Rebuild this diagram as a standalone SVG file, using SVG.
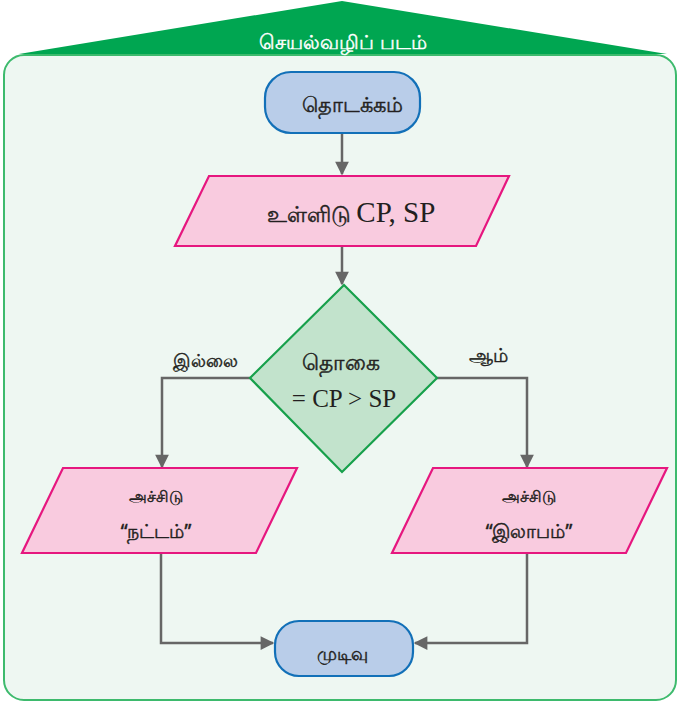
<svg xmlns="http://www.w3.org/2000/svg" width="679" height="703" viewBox="0 0 679 703">
<style>
.ta{font-family:"Noto Sans","DejaVu Sans",sans-serif;fill:#231f20;stroke:#231f20;stroke-width:0.45;text-anchor:middle}
.se{font-family:"Liberation Serif",serif;fill:#231f20}
.term{fill:#b9cde9;stroke:#1270b8;stroke-width:2.2}
.io{fill:#f9cbdf;stroke:#e6177f;stroke-width:2.2}
.dec{fill:#c2e3cc;stroke:#17a04b;stroke-width:2.2}
.con{fill:none;stroke:#666;stroke-width:2.5}
</style>
<defs>
<marker id="ah" viewBox="0 0 10 10" refX="9" refY="5" markerWidth="6" markerHeight="5.5" markerUnits="strokeWidth" orient="auto">
<path d="M0,0 L10,5 L0,10 z" fill="#666"/>
</marker>
</defs>
<g id="frame">
<polygon points="19,54 342,1 667,54" fill="#00a651"/>
<rect x="4" y="55" width="672" height="645" rx="20" fill="#eef7f2" stroke="#3dba6d" stroke-width="2"/>
<text x="343" y="49" class="ta" style="fill:#fff;stroke:#fff" font-size="19.5">செயல்வழிப் படம்</text>
</g>
<g id="connectors">
<line class="con" x1="342" y1="133" x2="342" y2="174" marker-end="url(#ah)"/>
<line class="con" x1="342" y1="246" x2="342" y2="284" marker-end="url(#ah)"/>
<polyline class="con" points="250,378 162,378 162,467" marker-end="url(#ah)"/>
<polyline class="con" points="437,378 527,378 527,467" marker-end="url(#ah)"/>
<polyline class="con" points="161,553 161,643 273,643" marker-end="url(#ah)"/>
<polyline class="con" points="527,553 527,643 415,643" marker-end="url(#ah)"/>
<text x="205" y="367" class="ta" font-size="18">இல்லை</text>
<text x="488" y="362" class="ta" font-size="18.5">ஆம்</text>
</g>
<g id="start">
<rect class="term" x="265" y="72" width="155" height="61" rx="26"/>
<text x="352" y="112" class="ta" font-size="21">தொடக்கம்</text>
</g>
<g id="input">
<polygon class="io" points="209,176 509,176 476,246 175,246"/>
<text x="351" y="222" text-anchor="middle"><tspan class="ta" font-size="22">உள்ளிடு </tspan><tspan class="se" font-size="29">CP, SP</tspan></text>
</g>
<g id="decision">
<polygon class="dec" points="344,285 437,378 342,472 250,378"/>
<text x="341" y="370" class="ta" font-size="22">தொகை</text>
<text x="344" y="407" class="se" font-size="25" text-anchor="middle">= CP &gt; SP</text>
</g>
<g id="loss">
<polygon class="io" points="63,468 297,468 256,553 22,553"/>
<text x="156" y="502" class="ta" font-size="16">அச்சிடு</text>
<text x="156" y="538" class="ta" font-size="19">“நட்டம்”</text>
</g>
<g id="profit">
<polygon class="io" points="433,468 667,468 626,553 392,553"/>
<text x="529" y="502" class="ta" font-size="16">அச்சிடு</text>
<text x="529" y="538" class="ta" font-size="19">“இலாபம்”</text>
</g>
<g id="end">
<rect class="term" x="275" y="621" width="138" height="55" rx="24"/>
<text x="342" y="660" class="ta" font-size="18">முடிவு</text>
</g>
</svg>
